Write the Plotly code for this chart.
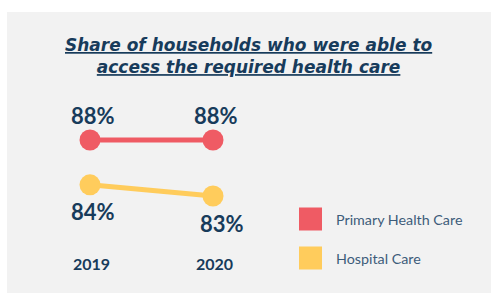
import plotly.graph_objects as go

years = [2019, 2020]
primary_health_care = [88, 88]
hospital_care = [84, 83]
series_names = ["Primary Health Care", "Hospital Care"]
colors = ["#EF5B64", "#FFCC5C"]
title_text = "Share of households who were able to<br>access the required health care"

W, H = 491, 293
NAVY = "#173b5b"

fig = go.Figure()
for name, vals, col in zip(series_names, [primary_health_care, hospital_care], colors):
    fig.add_trace(go.Scatter(
        x=years, y=vals, mode="lines+markers", name=name,
        line=dict(color=col, width=5),
        marker=dict(color=col, size=21),
        showlegend=False, hoverinfo="skip"))

annotations = []
# value labels
for i, (yr, v) in enumerate(zip(years, primary_health_care)):
    annotations.append(dict(x=yr, y=v, xref="x", yref="y", text=f"<b>{v}%</b>",
                            showarrow=False, yshift=25, xshift=3,
                            xanchor="center", yanchor="middle",
                            font=dict(family="Lato", size=22, color=NAVY)))
for i, (yr, v) in enumerate(zip(years, hospital_care)):
    annotations.append(dict(x=yr, y=v, xref="x", yref="y", text=f"<b>{v}%</b>",
                            showarrow=False, yshift=-27, xshift=3 if i == 0 else 9,
                            xanchor="center", yanchor="middle",
                            font=dict(family="Lato", size=22, color=NAVY)))
# year labels
for yr in years:
    annotations.append(dict(x=yr, y=1 - 263 / H, xref="x", yref="paper",
                            text=f"<b>{yr}</b>", showarrow=False, xshift=1,
                            xanchor="center", yanchor="middle",
                            font=dict(family="Lato", size=16, color=NAVY)))
# title
annotations.append(dict(x=249 / W, y=1 - 56 / H, xref="paper", yref="paper",
                        text=f"<b><i><u>{title_text}</u></i></b>", showarrow=False,
                        xanchor="center", yanchor="middle",
                        font=dict(family="DejaVu Sans", size=17, color=NAVY)))

shapes = [dict(type="rect", xref="paper", yref="paper", x0=7 / W, x1=1, y0=0, y1=1 - 12 / H,
               fillcolor="#f2f2f2", line=dict(width=0), layer="below")]
# legend
leg_y = [219, 258]
for name, col, ly in zip(series_names, colors, leg_y):
    shapes.append(dict(type="rect", xref="paper", yref="paper",
                       x0=299 / W, x1=322 / W, y0=1 - (ly + 11.5) / H, y1=1 - (ly - 11.5) / H,
                       fillcolor=col, line=dict(width=0)))
    annotations.append(dict(x=334 / W, y=1 - ly / H, xref="paper", yref="paper",
                            text=name, showarrow=False, xanchor="left", yanchor="middle",
                            font=dict(family="Lato", size=14.3, color="#3d5c7a")))

x0 = 2019 - 90 / 123
fig.update_layout(
    width=W, height=H, margin=dict(l=0, r=0, t=0, b=0),
    paper_bgcolor="white", plot_bgcolor="rgba(0,0,0,0)",
    xaxis=dict(range=[x0, x0 + W / 123], visible=False, fixedrange=True),
    yaxis=dict(range=[74.34, 100.5], visible=False, fixedrange=True),
    shapes=shapes, annotations=annotations, showlegend=False)

fig.write_html("out.html", config={"displayModeBar": False},
               post_script="document.body.style.margin='0';document.body.style.overflow='hidden';")
